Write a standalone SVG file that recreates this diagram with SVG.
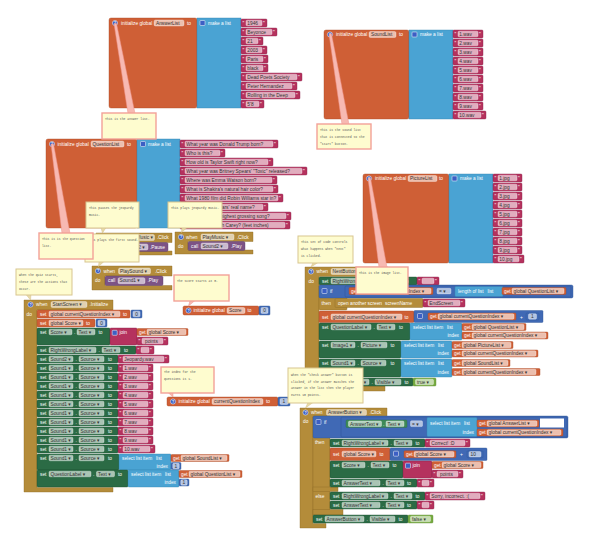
<svg xmlns="http://www.w3.org/2000/svg" width="600" height="542" viewBox="0 0 600 542">
<style>
.t{font-family:"Liberation Sans",Arial,"DejaVu Sans",sans-serif;font-size:4.8px;fill:#fff}
.k{font-family:"Liberation Sans",Arial,"DejaVu Sans",sans-serif;font-size:4.8px;fill:#333}
.e{text-anchor:end}
.q{font-family:"Liberation Sans",Arial,sans-serif;font-size:3.6px;fill:#fff;text-anchor:middle;font-weight:bold}
.o{fill:#CF5F36;stroke:#A94A24;stroke-width:.4}
.b{fill:#4AA3D3;stroke:#3584B0;stroke-width:.4}
.m{fill:#B5325E;stroke:#8C2049;stroke-width:.4}
.g{fill:#2B6B45;stroke:#1D4E31;stroke-width:.4}
.gg{fill:#3E8A58;stroke:#2B6B45;stroke-width:.4}
.y{fill:#B48C3A;stroke:#8E6C27;stroke-width:.4}
.p{fill:#7C5385;stroke:#5E3C66;stroke-width:.4}
.mb{fill:#4069B5;stroke:#2D5596;stroke-width:.4}
.lg{fill:#77AB41;stroke:#5C8A2F;stroke-width:.4}
.f{fill:#fff;fill-opacity:.6;stroke:#fff;stroke-opacity:.8;stroke-width:.4}
.ic{fill:#3C5FC4;stroke:#fff;stroke-width:.5}
.c{fill:#FEFCCF;stroke:#D8C58F;stroke-width:1}
.cp{fill:#FEFCCF;stroke:#F3A198;stroke-width:1.4}
.ct{font-family:"Liberation Mono","DejaVu Sans Mono",monospace;font-size:3.1px;fill:#555}
.w{fill:#F7B9B2;stroke:#EE948B;stroke-width:.5}
.tp{fill:#E9DAA8;stroke:#D2BE86;stroke-width:.5}
</style>
<rect width="600" height="542" fill="#fff"/>

<g id="answerList">
<rect class="o" x="109" y="18" width="88" height="90" rx="2"/>
<circle class="ic" cx="115" cy="23" r="2.6"/><text class="q" x="115" y="24.3">?</text>
<text class="t" x="121" y="24.7">initialize global</text>
<rect class="f" x="154" y="20" width="30" height="6" rx="1.5"/><text class="k" x="156" y="24.7">AnswerList</text>
<text class="t" x="187" y="24.7">to</text>
<rect class="b" x="197" y="18" width="44" height="90"/>
<rect class="ic" x="200" y="20.5" width="5" height="5" rx=".8"/>
<text class="t" x="208" y="24.7">make a list</text>
<rect class="m" x="241" y="19" width="26" height="8" rx="1"/><text class="t" x="242.6" y="25.3">"</text><rect class="f" x="246" y="20.2" width="16" height="5.6" rx="1.2"/><text class="k" x="247.3" y="24.7">1946</text><text class="t" x="263.1" y="25.3">"</text>
<rect class="m" x="241" y="28" width="36" height="8" rx="1"/><text class="t" x="242.6" y="34.3">"</text><rect class="f" x="246" y="29.2" width="26" height="5.6" rx="1.2"/><text class="k" x="247.3" y="33.7">Beyonce</text><text class="t" x="273.1" y="34.3">"</text>
<rect class="m" x="241" y="37" width="22" height="8" rx="1"/><text class="t" x="242.6" y="43.3">"</text><rect class="f" x="246" y="38.2" width="12" height="5.6" rx="1.2"/><text class="k" x="247.3" y="42.7">21</text><text class="t" x="259.1" y="43.3">"</text>
<rect class="m" x="241" y="46" width="26" height="8" rx="1"/><text class="t" x="242.6" y="52.3">"</text><rect class="f" x="246" y="47.2" width="16" height="5.6" rx="1.2"/><text class="k" x="247.3" y="51.7">2003</text><text class="t" x="263.1" y="52.3">"</text>
<rect class="m" x="241" y="55" width="27" height="8" rx="1"/><text class="t" x="242.6" y="61.3">"</text><rect class="f" x="246" y="56.2" width="17" height="5.6" rx="1.2"/><text class="k" x="247.3" y="60.7">Paris</text><text class="t" x="264.1" y="61.3">"</text>
<rect class="m" x="241" y="64" width="27" height="8" rx="1"/><text class="t" x="242.6" y="70.3">"</text><rect class="f" x="246" y="65.2" width="17" height="5.6" rx="1.2"/><text class="k" x="247.3" y="69.7">black</text><text class="t" x="264.1" y="70.3">"</text>
<rect class="m" x="241" y="73" width="61" height="8" rx="1"/><text class="t" x="242.6" y="79.3">"</text><rect class="f" x="246" y="74.2" width="51" height="5.6" rx="1.2"/><text class="k" x="247.3" y="78.7">Dead Poets Society</text><text class="t" x="298.1" y="79.3">"</text>
<rect class="m" x="241" y="82" width="56" height="8" rx="1"/><text class="t" x="242.6" y="88.3">"</text><rect class="f" x="246" y="83.2" width="46" height="5.6" rx="1.2"/><text class="k" x="247.3" y="87.7">Peter Hernandez</text><text class="t" x="293.1" y="88.3">"</text>
<rect class="m" x="241" y="91" width="59" height="8" rx="1"/><text class="t" x="242.6" y="97.3">"</text><rect class="f" x="246" y="92.2" width="49" height="5.6" rx="1.2"/><text class="k" x="247.3" y="96.7">Rolling in the Deep</text><text class="t" x="296.1" y="97.3">"</text>
<rect class="m" x="241" y="100" width="23" height="8" rx="1"/><text class="t" x="242.6" y="106.3">"</text><rect class="f" x="246" y="101.2" width="13" height="5.6" rx="1.2"/><text class="k" x="247.3" y="105.7">5'8</text><text class="t" x="260.1" y="106.3">"</text>
</g>

<g id="soundList">
<rect class="o" x="324" y="30" width="85" height="89" rx="2"/>
<circle class="ic" cx="330" cy="34.5" r="2.6"/><text class="q" x="330" y="35.8">?</text>
<text class="t" x="336" y="36.2">initialize global</text>
<rect class="f" x="369" y="31.5" width="27" height="6" rx="1.5"/><text class="k" x="371" y="36.2">SoundList</text>
<text class="t" x="399" y="36.2">to</text>
<rect class="b" x="409" y="30" width="44" height="89"/>
<rect class="ic" x="412" y="32" width="5" height="5" rx=".8"/>
<text class="t" x="420" y="36.2">make a list</text>
<rect class="m" x="453" y="30" width="30" height="8" rx="1"/><text class="t" x="454.6" y="36.3">"</text><rect class="f" x="458" y="31.2" width="20" height="5.6" rx="1.2"/><text class="k" x="459.3" y="35.7">1.wav</text><text class="t" x="479.1" y="36.3">"</text>
<rect class="m" x="453" y="39" width="30" height="8" rx="1"/><text class="t" x="454.6" y="45.3">"</text><rect class="f" x="458" y="40.2" width="20" height="5.6" rx="1.2"/><text class="k" x="459.3" y="44.7">2.wav</text><text class="t" x="479.1" y="45.3">"</text>
<rect class="m" x="453" y="48" width="30" height="8" rx="1"/><text class="t" x="454.6" y="54.3">"</text><rect class="f" x="458" y="49.2" width="20" height="5.6" rx="1.2"/><text class="k" x="459.3" y="53.7">3.wav</text><text class="t" x="479.1" y="54.3">"</text>
<rect class="m" x="453" y="57" width="30" height="8" rx="1"/><text class="t" x="454.6" y="63.3">"</text><rect class="f" x="458" y="58.2" width="20" height="5.6" rx="1.2"/><text class="k" x="459.3" y="62.7">4.wav</text><text class="t" x="479.1" y="63.3">"</text>
<rect class="m" x="453" y="66" width="30" height="8" rx="1"/><text class="t" x="454.6" y="72.3">"</text><rect class="f" x="458" y="67.2" width="20" height="5.6" rx="1.2"/><text class="k" x="459.3" y="71.7">5.wav</text><text class="t" x="479.1" y="72.3">"</text>
<rect class="m" x="453" y="75" width="30" height="8" rx="1"/><text class="t" x="454.6" y="81.3">"</text><rect class="f" x="458" y="76.2" width="20" height="5.6" rx="1.2"/><text class="k" x="459.3" y="80.7">6.wav</text><text class="t" x="479.1" y="81.3">"</text>
<rect class="m" x="453" y="84" width="30" height="8" rx="1"/><text class="t" x="454.6" y="90.3">"</text><rect class="f" x="458" y="85.2" width="20" height="5.6" rx="1.2"/><text class="k" x="459.3" y="89.7">7.wav</text><text class="t" x="479.1" y="90.3">"</text>
<rect class="m" x="453" y="93" width="30" height="8" rx="1"/><text class="t" x="454.6" y="99.3">"</text><rect class="f" x="458" y="94.2" width="20" height="5.6" rx="1.2"/><text class="k" x="459.3" y="98.7">8.wav</text><text class="t" x="479.1" y="99.3">"</text>
<rect class="m" x="453" y="102" width="30" height="8" rx="1"/><text class="t" x="454.6" y="108.3">"</text><rect class="f" x="458" y="103.2" width="20" height="5.6" rx="1.2"/><text class="k" x="459.3" y="107.7">9.wav</text><text class="t" x="479.1" y="108.3">"</text>
<rect class="m" x="453" y="111" width="33" height="8" rx="1"/><text class="t" x="454.6" y="117.3">"</text><rect class="f" x="458" y="112.2" width="23" height="5.6" rx="1.2"/><text class="k" x="459.3" y="116.7">10.wav</text><text class="t" x="482.1" y="117.3">"</text>
</g>

<g id="questionList">
<rect class="o" x="46" y="139" width="91" height="89" rx="2"/>
<circle class="ic" cx="52" cy="144" r="2.6"/><text class="q" x="52" y="145.3">?</text>
<text class="t" x="57.5" y="145.7">initialize global</text>
<rect class="f" x="91" y="141" width="33" height="6" rx="1.5"/><text class="k" x="92.5" y="145.7">QuestionList</text>
<text class="t" x="127" y="145.7">to</text>
<rect class="b" x="137" y="139" width="43" height="89"/>
<rect class="ic" x="140.5" y="141.5" width="5" height="5" rx=".8"/>
<text class="t" x="148" y="145.7">make a list</text>
<rect class="m" x="180" y="140" width="98" height="8" rx="1"/><text class="t" x="181.6" y="146.3">"</text><rect class="f" x="185" y="141.2" width="88" height="5.6" rx="1.2"/><text class="k" x="186.3" y="145.7">What year was Donald Trump born?</text><text class="t" x="274.1" y="146.3">"</text>
<rect class="m" x="180" y="149" width="45" height="8" rx="1"/><text class="t" x="181.6" y="155.3">"</text><rect class="f" x="185" y="150.2" width="35" height="5.6" rx="1.2"/><text class="k" x="186.3" y="154.7">Who is this?</text><text class="t" x="221.1" y="155.3">"</text>
<rect class="m" x="180" y="158" width="93" height="8" rx="1"/><text class="t" x="181.6" y="164.3">"</text><rect class="f" x="185" y="159.2" width="83" height="5.6" rx="1.2"/><text class="k" x="186.3" y="163.7">How old is Taylor Swift right now?</text><text class="t" x="269.1" y="164.3">"</text>
<rect class="m" x="180" y="167" width="127" height="8" rx="1"/><text class="t" x="181.6" y="173.3">"</text><rect class="f" x="185" y="168.2" width="117" height="5.6" rx="1.2"/><text class="k" x="186.3" y="172.7">What year was Britney Spears' "Toxic" released?</text><text class="t" x="303.1" y="173.3">"</text>
<rect class="m" x="180" y="176" width="97" height="8" rx="1"/><text class="t" x="181.6" y="182.3">"</text><rect class="f" x="185" y="177.2" width="87" height="5.6" rx="1.2"/><text class="k" x="186.3" y="181.7">Where was Emma Watson born?</text><text class="t" x="273.1" y="182.3">"</text>
<rect class="m" x="180" y="185" width="98" height="8" rx="1"/><text class="t" x="181.6" y="191.3">"</text><rect class="f" x="185" y="186.2" width="88" height="5.6" rx="1.2"/><text class="k" x="186.3" y="190.7">What is Shakira's natural hair color?</text><text class="t" x="274.1" y="191.3">"</text>
<rect class="m" x="180" y="194" width="103" height="8" rx="1"/><text class="t" x="181.6" y="200.3">"</text><rect class="f" x="185" y="195.2" width="93" height="5.6" rx="1.2"/><text class="k" x="186.3" y="199.7">What 1980 film did Robin Williams star in?</text><text class="t" x="279.1" y="200.3">"</text>
<rect class="m" x="180" y="203" width="88" height="8" rx="1"/><text class="t" x="181.6" y="209.3">"</text><rect class="f" x="185" y="204.2" width="78" height="5.6" rx="1.2"/><text class="k" x="186.3" y="208.7">What is Bruno Mars' real name?</text><text class="t" x="264.1" y="209.3">"</text>
<rect class="m" x="180" y="212" width="111" height="8" rx="1"/><text class="t" x="181.6" y="218.3">"</text><rect class="f" x="185" y="213.2" width="101" height="5.6" rx="1.2"/><text class="k" x="186.3" y="217.7">What is Adele's highest grossing song?</text><text class="t" x="287.1" y="218.3">"</text>
<rect class="m" x="180" y="221" width="110" height="8" rx="1"/><text class="t" x="181.6" y="227.3">"</text><rect class="f" x="185" y="222.2" width="100" height="5.6" rx="1.2"/><text class="k" x="186.3" y="226.7">How tall is Mariah Carey? (feet inches)</text><text class="t" x="286.1" y="227.3">"</text>
</g>

<g id="pictureList">
<rect class="o" x="363" y="174" width="86" height="89" rx="2"/>
<circle class="ic" cx="369" cy="178.5" r="2.6"/><text class="q" x="369" y="179.8">?</text>
<text class="t" x="375" y="180.2">initialize global</text>
<rect class="f" x="408" y="175.5" width="29" height="6" rx="1.5"/><text class="k" x="410" y="180.2">PictureList</text>
<text class="t" x="439" y="180.2">to</text>
<rect class="b" x="449" y="174" width="44" height="89"/>
<rect class="ic" x="452" y="176" width="5" height="5" rx=".8"/>
<text class="t" x="460" y="180.2">make a list</text>
<rect class="m" x="493" y="174" width="29" height="8" rx="1"/><text class="t" x="494.6" y="180.3">"</text><rect class="f" x="498" y="175.2" width="19" height="5.6" rx="1.2"/><text class="k" x="499.3" y="179.7">1.jpg</text><text class="t" x="518.1" y="180.3">"</text>
<rect class="m" x="493" y="183" width="29" height="8" rx="1"/><text class="t" x="494.6" y="189.3">"</text><rect class="f" x="498" y="184.2" width="19" height="5.6" rx="1.2"/><text class="k" x="499.3" y="188.7">2.jpg</text><text class="t" x="518.1" y="189.3">"</text>
<rect class="m" x="493" y="192" width="29" height="8" rx="1"/><text class="t" x="494.6" y="198.3">"</text><rect class="f" x="498" y="193.2" width="19" height="5.6" rx="1.2"/><text class="k" x="499.3" y="197.7">3.jpg</text><text class="t" x="518.1" y="198.3">"</text>
<rect class="m" x="493" y="201" width="29" height="8" rx="1"/><text class="t" x="494.6" y="207.3">"</text><rect class="f" x="498" y="202.2" width="19" height="5.6" rx="1.2"/><text class="k" x="499.3" y="206.7">4.jpg</text><text class="t" x="518.1" y="207.3">"</text>
<rect class="m" x="493" y="210" width="29" height="8" rx="1"/><text class="t" x="494.6" y="216.3">"</text><rect class="f" x="498" y="211.2" width="19" height="5.6" rx="1.2"/><text class="k" x="499.3" y="215.7">5.jpg</text><text class="t" x="518.1" y="216.3">"</text>
<rect class="m" x="493" y="219" width="29" height="8" rx="1"/><text class="t" x="494.6" y="225.3">"</text><rect class="f" x="498" y="220.2" width="19" height="5.6" rx="1.2"/><text class="k" x="499.3" y="224.7">6.jpg</text><text class="t" x="518.1" y="225.3">"</text>
<rect class="m" x="493" y="228" width="29" height="8" rx="1"/><text class="t" x="494.6" y="234.3">"</text><rect class="f" x="498" y="229.2" width="19" height="5.6" rx="1.2"/><text class="k" x="499.3" y="233.7">7.jpg</text><text class="t" x="518.1" y="234.3">"</text>
<rect class="m" x="493" y="237" width="29" height="8" rx="1"/><text class="t" x="494.6" y="243.3">"</text><rect class="f" x="498" y="238.2" width="19" height="5.6" rx="1.2"/><text class="k" x="499.3" y="242.7">8.jpg</text><text class="t" x="518.1" y="243.3">"</text>
<rect class="m" x="493" y="246" width="29" height="8" rx="1"/><text class="t" x="494.6" y="252.3">"</text><rect class="f" x="498" y="247.2" width="19" height="5.6" rx="1.2"/><text class="k" x="499.3" y="251.7">9.jpg</text><text class="t" x="518.1" y="252.3">"</text>
<rect class="m" x="493" y="255" width="31" height="8" rx="1"/><text class="t" x="494.6" y="261.3">"</text><rect class="f" x="498" y="256.2" width="21" height="5.6" rx="1.2"/><text class="k" x="499.3" y="260.7">10.jpg</text><text class="t" x="520.1" y="261.3">"</text>
</g>

<g id="pauseMusic">
<path class="y" d="M96,233 H172 V242.5 H110 V251 H172 V255 H96 Z"/>
<circle class="ic" cx="102" cy="237.5" r="2.6"/><text class="q" x="102" y="238.8">?</text>
<text class="t" x="107" y="239.2">when</text>
<rect class="f" x="121.5" y="234.5" width="33" height="6" rx="1.5"/><text class="k" x="123" y="239.2">PauseMusic ▾</text>
<text class="t" x="157" y="239.2">.Click</text>
<text class="t" x="99" y="248.5">do</text>
<rect class="p" x="110" y="242.5" width="58" height="9" rx="1.5"/>
<text class="t" x="113" y="248.5">call</text>
<rect class="f" x="123" y="244" width="25" height="6" rx="1.5"/><text class="k" x="124.5" y="248.5">Sound2 ▾</text>
<text class="t" x="150" y="248.5">.Pause</text>
</g>

<g id="playMusic">
<path class="y" d="M175,232 H253 V241.5 H188 V250 H253 V254 H175 Z"/>
<circle class="ic" cx="181" cy="237" r="2.6"/><text class="q" x="181" y="238.3">?</text>
<text class="t" x="186" y="238.7">when</text>
<rect class="f" x="201" y="234" width="33" height="6" rx="1.5"/><text class="k" x="202.5" y="238.7">PlayMusic ▾</text>
<text class="t" x="237" y="238.7">.Click</text>
<text class="t" x="178" y="247.5">do</text>
<rect class="p" x="188" y="241.5" width="57" height="9" rx="1.5"/>
<text class="t" x="191" y="247.5">call</text>
<rect class="f" x="201" y="243" width="27" height="6" rx="1.5"/><text class="k" x="202.5" y="247.5">Sound2 ▾</text>
<text class="t" x="231" y="247.5">.Play</text>
</g>

<g id="playSound">
<path class="y" d="M92,266 H172 V276 H105 V285.5 H172 V290 H92 Z"/>
<circle class="ic" cx="98" cy="271" r="2.6"/><text class="q" x="98" y="272.3">?</text>
<text class="t" x="103.5" y="272.7">when</text>
<rect class="f" x="118.5" y="268" width="32" height="6" rx="1.5"/><text class="k" x="120" y="272.7">PlaySound ▾</text>
<text class="t" x="155" y="272.7">.Click</text>
<text class="t" x="95" y="282">do</text>
<rect class="p" x="105" y="276" width="58" height="9.5" rx="1.5"/>
<text class="t" x="108" y="282.3">call</text>
<rect class="f" x="118" y="277.7" width="27" height="6" rx="1.5"/><text class="k" x="119.5" y="282.3">Sound1 ▾</text>
<text class="t" x="147.5" y="282.3">.Play</text>
</g>

<g id="initScore">
<rect class="o" x="183" y="306" width="76" height="9" rx="1.5"/>
<circle class="ic" cx="188.5" cy="310.5" r="2.6"/><text class="q" x="188.5" y="311.8">?</text>
<text class="t" x="193.5" y="312.2">initialize global</text>
<rect class="f" x="227" y="307.5" width="18" height="6" rx="1.5"/><text class="k" x="229" y="312.2">Score</text>
<text class="t" x="247.5" y="312.2">to</text>
<rect class="mb" x="259" y="306" width="11" height="9" rx="1"/><rect class="f" x="261" y="307.5" width="7" height="6" rx="1.2"/><text class="k" x="263.2" y="312.2">0</text>
</g>

<g id="initIndex">
<rect class="o" x="167" y="397" width="111" height="9" rx="1.5"/>
<circle class="ic" cx="173" cy="401.5" r="2.6"/><text class="q" x="173" y="402.8">?</text>
<text class="t" x="178.5" y="403.2">initialize global</text>
<rect class="f" x="212" y="398.5" width="51" height="6" rx="1.5"/><text class="k" x="214" y="403.2">currentQuestionIndex</text>
<text class="t" x="266" y="403.2">to</text>
<rect class="mb" x="278" y="397" width="12" height="9" rx="1"/><rect class="f" x="280" y="398.5" width="8" height="6" rx="1.2"/><text class="k" x="282.6" y="403.2">1</text>
</g>

<g id="startScreen">
<path class="y" d="M24,300 H113 V310 H37 V487.5 H113 V492 H24 Z"/>
<circle class="ic" cx="30.5" cy="304.5" r="2.6"/><text class="q" x="30.5" y="305.8">?</text>
<text class="t" x="36" y="306.2">when</text>
<rect class="f" x="51" y="301.5" width="36" height="6" rx="1.5"/><text class="k" x="52.5" y="306.2">StartScreen ▾</text>
<text class="t" x="89.5" y="306.2">.Initialize</text>
<text class="t" x="26.5" y="315.5">do</text>
<rect class="o" x="37" y="310" width="93" height="8" rx="1"/>
<text class="t" x="40" y="315.7">set</text>
<rect class="f" x="49" y="311.2" width="71" height="5.6" rx="1.2"/><text class="k" x="50.5" y="315.7">global currentQuestionIndex ▾</text>
<text class="t" x="123" y="315.7">to</text>
<rect class="mb" x="131" y="310" width="11" height="8" rx="1"/><rect class="f" x="133" y="311.2" width="7" height="5.6" rx="1.2"/><text class="k" x="135.2" y="315.7">0</text>
<rect class="o" x="37" y="319" width="58" height="8" rx="1"/>
<text class="t" x="40" y="324.7">set</text>
<rect class="f" x="49" y="320.2" width="34" height="5.6" rx="1.2"/><text class="k" x="50.5" y="324.7">global Score ▾</text>
<text class="t" x="86" y="324.7">to</text>
<rect class="mb" x="96" y="319" width="11" height="8" rx="1"/><rect class="f" x="98" y="320.2" width="7" height="5.6" rx="1.2"/><text class="k" x="100.2" y="324.7">0</text>
<rect class="g" x="37" y="328" width="73" height="17" rx="1"/>
<text class="t" x="40" y="333.7">set</text>
<rect class="f" x="49" y="329.2" width="23" height="5.6" rx="1.2"/><text class="k" x="50.5" y="333.7">Score ▾</text>
<text class="t" x="74" y="333.7">.</text>
<rect class="f" x="77" y="329.2" width="18" height="5.6" rx="1.2"/><text class="k" x="78.5" y="333.7">Text ▾</text>
<text class="t" x="98.5" y="333.7">to</text>
<rect class="m" x="110" y="328" width="27" height="17" rx="1"/>
<rect class="ic" x="112.2" y="330.3" width="5" height="5" rx=".8"/>
<text class="t" x="119.5" y="333.7">join</text>
<rect class="o" x="137" y="328.5" width="51" height="7" rx="1"/><text class="t" x="139" y="333.7">get</text><rect class="f" x="147" y="329.3" width="39" height="5.4" rx="1.2"/><text class="k" x="148.5" y="333.7">global Score ▾</text>
<rect class="m" x="137" y="337" width="31" height="8" rx="1"/><text class="t" x="138.6" y="343.3">"</text><rect class="f" x="142" y="338.2" width="21" height="5.6" rx="1.2"/><text class="k" x="145" y="342.7">points</text><text class="t" x="164.1" y="343.3">"</text>
<rect class="g" x="37" y="346" width="99" height="8" rx="1"/>
<text class="t" x="40" y="351.7">set</text>
<rect class="f" x="49" y="347.2" width="47" height="5.6" rx="1.2"/><text class="k" x="50.5" y="351.7">RightWrongLabel ▾</text>
<text class="t" x="98.5" y="351.7">.</text>
<rect class="f" x="102" y="347.2" width="18" height="5.6" rx="1.2"/><text class="k" x="103.5" y="351.7">Text ▾</text>
<text class="t" x="124" y="351.7">to</text>
<rect class="m" x="136" y="346" width="18" height="8" rx="1"/><text class="t" x="137.6" y="352.3">"</text><rect class="f" x="141" y="347.2" width="8" height="5.6" rx="1.2"/><text class="t" x="150.1" y="352.3">"</text>
<rect class="g" x="37" y="355" width="81" height="8" rx="1"/>
<text class="t" x="40" y="360.7">set</text>
<rect class="f" x="49" y="356.2" width="24" height="5.6" rx="1.2"/><text class="k" x="50.5" y="360.7">Sound2 ▾</text>
<text class="t" x="75.5" y="360.7">.</text>
<rect class="f" x="79" y="356.2" width="25" height="5.6" rx="1.2"/><text class="k" x="80.5" y="360.7">Source ▾</text>
<text class="t" x="108" y="360.7">to</text>
<rect class="m" x="118" y="355" width="51" height="8" rx="1"/><text class="t" x="119.6" y="361.3">"</text><rect class="f" x="123" y="356.2" width="41" height="5.6" rx="1.2"/><text class="k" x="124.3" y="360.7">Jeopardy.wav</text><text class="t" x="165.1" y="361.3">"</text>
<rect class="g" x="37" y="364" width="81" height="8" rx="1"/><text class="t" x="40" y="369.7">set</text><rect class="f" x="49" y="365.2" width="24" height="5.6" rx="1.2"/><text class="k" x="50.5" y="369.7">Sound1 ▾</text><text class="t" x="75.5" y="369.7">.</text><rect class="f" x="79" y="365.2" width="25" height="5.6" rx="1.2"/><text class="k" x="80.5" y="369.7">Source ▾</text><text class="t" x="108" y="369.7">to</text>
<rect class="m" x="118" y="364" width="35" height="8" rx="1"/><text class="t" x="119.6" y="370.3">"</text><rect class="f" x="123" y="365.2" width="25" height="5.6" rx="1.2"/><text class="k" x="124.3" y="369.7">1.wav</text><text class="t" x="149.1" y="370.3">"</text>
<rect class="g" x="37" y="373" width="81" height="8" rx="1"/><text class="t" x="40" y="378.7">set</text><rect class="f" x="49" y="374.2" width="24" height="5.6" rx="1.2"/><text class="k" x="50.5" y="378.7">Sound1 ▾</text><text class="t" x="75.5" y="378.7">.</text><rect class="f" x="79" y="374.2" width="25" height="5.6" rx="1.2"/><text class="k" x="80.5" y="378.7">Source ▾</text><text class="t" x="108" y="378.7">to</text>
<rect class="m" x="118" y="373" width="35" height="8" rx="1"/><text class="t" x="119.6" y="379.3">"</text><rect class="f" x="123" y="374.2" width="25" height="5.6" rx="1.2"/><text class="k" x="124.3" y="378.7">2.wav</text><text class="t" x="149.1" y="379.3">"</text>
<rect class="g" x="37" y="382" width="81" height="8" rx="1"/><text class="t" x="40" y="387.7">set</text><rect class="f" x="49" y="383.2" width="24" height="5.6" rx="1.2"/><text class="k" x="50.5" y="387.7">Sound1 ▾</text><text class="t" x="75.5" y="387.7">.</text><rect class="f" x="79" y="383.2" width="25" height="5.6" rx="1.2"/><text class="k" x="80.5" y="387.7">Source ▾</text><text class="t" x="108" y="387.7">to</text>
<rect class="m" x="118" y="382" width="35" height="8" rx="1"/><text class="t" x="119.6" y="388.3">"</text><rect class="f" x="123" y="383.2" width="25" height="5.6" rx="1.2"/><text class="k" x="124.3" y="387.7">3.wav</text><text class="t" x="149.1" y="388.3">"</text>
<rect class="g" x="37" y="391" width="81" height="8" rx="1"/><text class="t" x="40" y="396.7">set</text><rect class="f" x="49" y="392.2" width="24" height="5.6" rx="1.2"/><text class="k" x="50.5" y="396.7">Sound1 ▾</text><text class="t" x="75.5" y="396.7">.</text><rect class="f" x="79" y="392.2" width="25" height="5.6" rx="1.2"/><text class="k" x="80.5" y="396.7">Source ▾</text><text class="t" x="108" y="396.7">to</text>
<rect class="m" x="118" y="391" width="35" height="8" rx="1"/><text class="t" x="119.6" y="397.3">"</text><rect class="f" x="123" y="392.2" width="25" height="5.6" rx="1.2"/><text class="k" x="124.3" y="396.7">4.wav</text><text class="t" x="149.1" y="397.3">"</text>
<rect class="g" x="37" y="400" width="81" height="8" rx="1"/><text class="t" x="40" y="405.7">set</text><rect class="f" x="49" y="401.2" width="24" height="5.6" rx="1.2"/><text class="k" x="50.5" y="405.7">Sound1 ▾</text><text class="t" x="75.5" y="405.7">.</text><rect class="f" x="79" y="401.2" width="25" height="5.6" rx="1.2"/><text class="k" x="80.5" y="405.7">Source ▾</text><text class="t" x="108" y="405.7">to</text>
<rect class="m" x="118" y="400" width="35" height="8" rx="1"/><text class="t" x="119.6" y="406.3">"</text><rect class="f" x="123" y="401.2" width="25" height="5.6" rx="1.2"/><text class="k" x="124.3" y="405.7">5.wav</text><text class="t" x="149.1" y="406.3">"</text>
<rect class="g" x="37" y="409" width="81" height="8" rx="1"/><text class="t" x="40" y="414.7">set</text><rect class="f" x="49" y="410.2" width="24" height="5.6" rx="1.2"/><text class="k" x="50.5" y="414.7">Sound1 ▾</text><text class="t" x="75.5" y="414.7">.</text><rect class="f" x="79" y="410.2" width="25" height="5.6" rx="1.2"/><text class="k" x="80.5" y="414.7">Source ▾</text><text class="t" x="108" y="414.7">to</text>
<rect class="m" x="118" y="409" width="35" height="8" rx="1"/><text class="t" x="119.6" y="415.3">"</text><rect class="f" x="123" y="410.2" width="25" height="5.6" rx="1.2"/><text class="k" x="124.3" y="414.7">6.wav</text><text class="t" x="149.1" y="415.3">"</text>
<rect class="g" x="37" y="418" width="81" height="8" rx="1"/><text class="t" x="40" y="423.7">set</text><rect class="f" x="49" y="419.2" width="24" height="5.6" rx="1.2"/><text class="k" x="50.5" y="423.7">Sound1 ▾</text><text class="t" x="75.5" y="423.7">.</text><rect class="f" x="79" y="419.2" width="25" height="5.6" rx="1.2"/><text class="k" x="80.5" y="423.7">Source ▾</text><text class="t" x="108" y="423.7">to</text>
<rect class="m" x="118" y="418" width="35" height="8" rx="1"/><text class="t" x="119.6" y="424.3">"</text><rect class="f" x="123" y="419.2" width="25" height="5.6" rx="1.2"/><text class="k" x="124.3" y="423.7">7.wav</text><text class="t" x="149.1" y="424.3">"</text>
<rect class="g" x="37" y="427" width="81" height="8" rx="1"/><text class="t" x="40" y="432.7">set</text><rect class="f" x="49" y="428.2" width="24" height="5.6" rx="1.2"/><text class="k" x="50.5" y="432.7">Sound1 ▾</text><text class="t" x="75.5" y="432.7">.</text><rect class="f" x="79" y="428.2" width="25" height="5.6" rx="1.2"/><text class="k" x="80.5" y="432.7">Source ▾</text><text class="t" x="108" y="432.7">to</text>
<rect class="m" x="118" y="427" width="35" height="8" rx="1"/><text class="t" x="119.6" y="433.3">"</text><rect class="f" x="123" y="428.2" width="25" height="5.6" rx="1.2"/><text class="k" x="124.3" y="432.7">8.wav</text><text class="t" x="149.1" y="433.3">"</text>
<rect class="g" x="37" y="436" width="81" height="8" rx="1"/><text class="t" x="40" y="441.7">set</text><rect class="f" x="49" y="437.2" width="24" height="5.6" rx="1.2"/><text class="k" x="50.5" y="441.7">Sound1 ▾</text><text class="t" x="75.5" y="441.7">.</text><rect class="f" x="79" y="437.2" width="25" height="5.6" rx="1.2"/><text class="k" x="80.5" y="441.7">Source ▾</text><text class="t" x="108" y="441.7">to</text>
<rect class="m" x="118" y="436" width="35" height="8" rx="1"/><text class="t" x="119.6" y="442.3">"</text><rect class="f" x="123" y="437.2" width="25" height="5.6" rx="1.2"/><text class="k" x="124.3" y="441.7">9.wav</text><text class="t" x="149.1" y="442.3">"</text>
<rect class="g" x="37" y="445" width="81" height="8" rx="1"/><text class="t" x="40" y="450.7">set</text><rect class="f" x="49" y="446.2" width="24" height="5.6" rx="1.2"/><text class="k" x="50.5" y="450.7">Sound1 ▾</text><text class="t" x="75.5" y="450.7">.</text><rect class="f" x="79" y="446.2" width="25" height="5.6" rx="1.2"/><text class="k" x="80.5" y="450.7">Source ▾</text><text class="t" x="108" y="450.7">to</text>
<rect class="m" x="118" y="445" width="37" height="8" rx="1"/><text class="t" x="119.6" y="451.3">"</text><rect class="f" x="123" y="446.2" width="27" height="5.6" rx="1.2"/><text class="k" x="124.3" y="450.7">10.wav</text><text class="t" x="151.1" y="451.3">"</text>
<rect class="g" x="37" y="454" width="82" height="16" rx="1"/><text class="t" x="40" y="459.7">set</text><rect class="f" x="49" y="455.2" width="24" height="5.6" rx="1.2"/><text class="k" x="50.5" y="459.7">Sound1 ▾</text><text class="t" x="75.5" y="459.7">.</text><rect class="f" x="79" y="455.2" width="25" height="5.6" rx="1.2"/><text class="k" x="80.5" y="459.7">Source ▾</text><text class="t" x="108" y="459.7">to</text>
<rect class="b" x="119" y="454" width="52" height="16" rx="1"/>
<text class="t" x="122" y="459.7">select list item</text><text class="t" x="156" y="459.7">list</text>
<text class="t e" x="168" y="468">index</text>
<rect class="o" x="171" y="454.5" width="58" height="7" rx="1"/><text class="t" x="173" y="459.7">get</text><rect class="f" x="181" y="455.3" width="46" height="5.4" rx="1.2"/><text class="k" x="182.5" y="459.7">global SoundList ▾</text>
<rect class="mb" x="171" y="462.5" width="10" height="7" rx="1"/><rect class="f" x="172.8" y="463.3" width="6.4" height="5.4" rx="1.2"/><text class="k" x="174.6" y="467.7">1</text>
<rect class="g" x="37" y="470" width="91" height="17" rx="1"/><text class="t" x="40" y="475.7">set</text><rect class="f" x="49" y="471.2" width="42" height="5.6" rx="1.2"/><text class="k" x="50.5" y="475.7">QuestionLabel ▾</text><text class="t" x="93" y="475.7">.</text><rect class="f" x="96.5" y="471.2" width="18" height="5.6" rx="1.2"/><text class="k" x="98" y="475.7">Text ▾</text><text class="t" x="118" y="475.7">to</text>
<rect class="b" x="128" y="470" width="51" height="17" rx="1"/>
<text class="t" x="131" y="475.7">select list item</text><text class="t" x="165" y="475.7">list</text>
<text class="t e" x="176" y="484.3">index</text>
<rect class="o" x="179" y="470.5" width="63" height="7" rx="1"/><text class="t" x="181" y="475.7">get</text><rect class="f" x="189" y="471.3" width="51" height="5.4" rx="1.2"/><text class="k" x="190.5" y="475.7">global QuestionList ▾</text>
<rect class="mb" x="179" y="479" width="10" height="7" rx="1"/><rect class="f" x="180.8" y="479.8" width="6.4" height="5.4" rx="1.2"/><text class="k" x="182.6" y="484.2">1</text>
</g>

<g id="nextButton">
<path class="y" d="M305,267 H388 V276.5 H319 V386 H385 V391 H305 Z"/>
<circle class="ic" cx="311" cy="271.5" r="2.6"/><text class="q" x="311" y="272.8">?</text>
<text class="t" x="316.5" y="273.2">when</text>
<rect class="f" x="331" y="268.5" width="34" height="6" rx="1.5"/><text class="k" x="332.5" y="273.2">NextButton ▾</text>
<text class="t" x="368" y="273.2">.Click</text>
<text class="t" x="308.5" y="282.5">do</text>
<rect class="g" x="319" y="277" width="98" height="8" rx="1"/><text class="t" x="322" y="282.7">set</text><rect class="f" x="331" y="278.2" width="46" height="5.6" rx="1.2"/><text class="k" x="332.5" y="282.7">RightWrongLabel ▾</text><text class="t" x="379.5" y="282.7">.</text><rect class="f" x="383" y="278.2" width="18" height="5.6" rx="1.2"/><text class="k" x="384.5" y="282.7">Text ▾</text><text class="t" x="404.5" y="282.7">to</text>
<rect class="m" x="417" y="277" width="22" height="8" rx="1"/><text class="t" x="418.6" y="283.3">"</text><rect class="f" x="422" y="278.2" width="12" height="5.6" rx="1.2"/><text class="t" x="435.1" y="283.3">"</text>
<rect class="y" x="319" y="285" width="28" height="25" rx="1"/>
<rect class="mb" x="319" y="285" width="254" height="13" rx="1.5"/>
<rect class="ic" x="322" y="288.5" width="5" height="5" rx=".8"/>
<text class="t" x="330" y="292.7">if</text>
<rect class="mb" x="345" y="286" width="226" height="11" rx="1" style="stroke:#2A4F8F"/>
<rect class="o" x="349" y="287.5" width="84" height="7" rx="1"/><text class="t" x="351" y="292.7">get</text><rect class="f" x="359" y="288.3" width="72" height="5.4" rx="1.2"/><text class="k" x="360.5" y="292.7">global currentQuestionIndex ▾</text>
<rect class="f" x="437" y="288.3" width="14" height="5.6" rx="1.2"/><text class="k" x="439" y="292.7">= ▾</text>
<rect class="b" x="455" y="286.5" width="48" height="10" rx="1"/>
<text class="t" x="458" y="292.7">length of list</text><text class="t" x="487.5" y="292.7">list</text>
<rect class="o" x="502" y="287.5" width="64" height="7" rx="1"/><text class="t" x="504" y="292.7">get</text><rect class="f" x="512" y="288.3" width="52" height="5.4" rx="1.2"/><text class="k" x="513.5" y="292.7">global QuestionList ▾</text>
<text class="t" x="321.5" y="304.7">then</text>
<rect class="y" x="335" y="298.5" width="88" height="9" rx="1"/>
<text class="t" x="338" y="304.7">open another screen</text><text class="t" x="385" y="304.7">screenName</text>
<rect class="m" x="423" y="299" width="42" height="8" rx="1"/><text class="t" x="424.6" y="305.3">"</text><rect class="f" x="428" y="300.2" width="32" height="5.6" rx="1.2"/><text class="k" x="429.3" y="304.7">EndScreen</text><text class="t" x="461.1" y="305.3">"</text>
<rect class="o" x="319" y="311" width="95" height="11.5" rx="1"/><text class="t" x="322" y="318.5">set</text><rect class="f" x="331" y="314" width="71" height="5.6" rx="1.2"/><text class="k" x="332.5" y="318.5">global currentQuestionIndex ▾</text><text class="t" x="404.5" y="318.5">to</text>
<rect class="mb" x="414" y="310.5" width="129" height="12" rx="1"/>
<rect class="ic" x="417.5" y="313.5" width="5" height="5" rx=".8"/>
<rect class="o" x="428" y="313" width="88" height="7" rx="1"/><text class="t" x="430" y="318.2">get</text><rect class="f" x="438" y="313.8" width="76" height="5.4" rx="1.2"/><text class="k" x="439.5" y="318.2">global currentQuestionIndex ▾</text>
<text class="t" x="520" y="318.5">+</text>
<rect class="mb" x="526" y="313" width="13" height="7" rx="1"/><rect class="f" x="528.5" y="313.8" width="8" height="5.4" rx="1.2"/><text class="k" x="531" y="318.2">1</text>
<rect class="g" x="319" y="323" width="91" height="17" rx="1"/><text class="t" x="322" y="328.7">set</text><rect class="f" x="331" y="324.2" width="40" height="5.6" rx="1.2"/><text class="k" x="332.5" y="328.7">QuestionLabel ▾</text><text class="t" x="373.5" y="328.7">.</text><rect class="f" x="377" y="324.2" width="18" height="5.6" rx="1.2"/><text class="k" x="378.5" y="328.7">Text ▾</text><text class="t" x="399" y="328.7">to</text>
<rect class="b" x="410" y="323" width="52" height="17" rx="1"/><text class="t" x="413" y="328.7">select list item</text><text class="t" x="447" y="328.7">list</text><text class="t e" x="459" y="337.3">index</text>
<rect class="o" x="462" y="323.5" width="64" height="7" rx="1"/><text class="t" x="464" y="328.7">get</text><rect class="f" x="472" y="324.3" width="52" height="5.4" rx="1.2"/><text class="k" x="473.5" y="328.7">global QuestionList ▾</text>
<rect class="o" x="462" y="332" width="86" height="7" rx="1"/><text class="t" x="464" y="337.2">get</text><rect class="f" x="472" y="332.8" width="74" height="5.4" rx="1.2"/><text class="k" x="473.5" y="337.2">global currentQuestionIndex ▾</text>
<rect class="g" x="319" y="341" width="82" height="17" rx="1"/><text class="t" x="322" y="346.7">set</text><rect class="f" x="331" y="342.2" width="24" height="5.6" rx="1.2"/><text class="k" x="332.5" y="346.7">Image1 ▾</text><text class="t" x="357.5" y="346.7">.</text><rect class="f" x="361" y="342.2" width="26" height="5.6" rx="1.2"/><text class="k" x="362.5" y="346.7">Picture ▾</text><text class="t" x="390.5" y="346.7">to</text>
<rect class="b" x="401" y="341" width="51" height="17" rx="1"/><text class="t" x="404" y="346.7">select list item</text><text class="t" x="438" y="346.7">list</text><text class="t e" x="449" y="355.3">index</text>
<rect class="o" x="452" y="341.5" width="61" height="7" rx="1"/><text class="t" x="454" y="346.7">get</text><rect class="f" x="462" y="342.3" width="49" height="5.4" rx="1.2"/><text class="k" x="463.5" y="346.7">global PictureList ▾</text>
<rect class="o" x="452" y="350" width="86" height="7" rx="1"/><text class="t" x="454" y="355.2">get</text><rect class="f" x="462" y="350.8" width="74" height="5.4" rx="1.2"/><text class="k" x="463.5" y="355.2">global currentQuestionIndex ▾</text>
<rect class="g" x="319" y="359" width="82" height="18" rx="1"/><text class="t" x="322" y="364.7">set</text><rect class="f" x="331" y="360.2" width="24" height="5.6" rx="1.2"/><text class="k" x="332.5" y="364.7">Sound1 ▾</text><text class="t" x="357.5" y="364.7">.</text><rect class="f" x="361" y="360.2" width="25" height="5.6" rx="1.2"/><text class="k" x="362.5" y="364.7">Source ▾</text><text class="t" x="390.5" y="364.7">to</text>
<rect class="b" x="401" y="359" width="51" height="18" rx="1"/><text class="t" x="404" y="364.7">select list item</text><text class="t" x="438" y="364.7">list</text><text class="t e" x="449" y="374">index</text>
<rect class="o" x="452" y="359.5" width="58" height="7" rx="1"/><text class="t" x="454" y="364.7">get</text><rect class="f" x="462" y="360.3" width="46" height="5.4" rx="1.2"/><text class="k" x="463.5" y="364.7">global SoundList ▾</text>
<rect class="o" x="452" y="368.5" width="88" height="7" rx="1"/><text class="t" x="454" y="373.7">get</text><rect class="f" x="462" y="369.3" width="74" height="5.4" rx="1.2"/><text class="k" x="463.5" y="373.7">global currentQuestionIndex ▾</text>
<rect class="g" x="319" y="378" width="94" height="8" rx="1"/><text class="t" x="322" y="383.7">set</text><rect class="f" x="331" y="379.2" width="38" height="5.6" rx="1.2"/><text class="k" x="332.5" y="383.7">AnswerButton ▾</text><text class="t" x="371.5" y="383.7">.</text><rect class="f" x="375" y="379.2" width="26" height="5.6" rx="1.2"/><text class="k" x="376.5" y="383.7">Visible ▾</text><text class="t" x="404.5" y="383.7">to</text>
<rect class="lg" x="413" y="378" width="23" height="8" rx="1"/><rect class="f" x="415.5" y="379.2" width="18" height="5.6" rx="1.2"/><text class="k" x="417" y="383.7">true ▾</text>
</g>

<g id="answerButton">
<path class="y" d="M300,408 H387 V417 H313 V523.5 H326 V528 H300 Z"/>
<circle class="ic" cx="305.5" cy="412.5" r="2.6"/><text class="q" x="305.5" y="413.8">?</text>
<text class="t" x="311" y="414.2">when</text>
<rect class="f" x="326.5" y="409.5" width="40" height="6" rx="1.5"/><text class="k" x="328" y="414.2">AnswerButton ▾</text>
<text class="t" x="369.5" y="414.2">.Click</text>
<text class="t" x="303" y="423">do</text>
<rect class="y" x="313" y="416" width="17" height="99"/>
<rect class="y" x="313" y="487" width="25" height="4.5"/>
<rect class="y" x="313" y="509.5" width="30" height="5.5"/>
<rect class="mb" x="313" y="416" width="255" height="22" rx="1.5"/>
<rect class="ic" x="316" y="419.5" width="5" height="5" rx=".8"/>
<text class="t" x="324" y="424">if</text>
<rect class="mb" x="341" y="417" width="226" height="20" rx="1" style="stroke:#2A4F8F"/>
<rect class="gg" x="346" y="420" width="61" height="7.5" rx="1"/><rect class="f" x="348.5" y="421" width="33" height="5.6" rx="1.2"/><text class="k" x="350" y="425.5">AnswerText ▾</text><text class="t" x="383" y="425.5">.</text><rect class="f" x="386" y="421" width="18" height="5.6" rx="1.2"/><text class="k" x="387.5" y="425.5">Text ▾</text>
<rect class="f" x="410.5" y="420.8" width="12" height="5.8" rx="1.2"/><text class="k" x="412" y="425.5">= ▾</text>
<rect class="b" x="427" y="417.5" width="50" height="19" rx="1"/><text class="t" x="430" y="425.2">select list item</text><text class="t" x="464" y="425.2">list</text><text class="t e" x="474" y="434">index</text>
<rect class="o" x="477" y="420" width="62" height="7" rx="1"/><text class="t" x="479" y="425.2">get</text><rect class="f" x="487" y="420.8" width="50" height="5.4" rx="1.2"/><text class="k" x="488.5" y="425.2">global AnswerList ▾</text>
<rect x="540" y="418.5" width="24" height="9" fill="#fff"/>
<rect class="o" x="477" y="429" width="86" height="7" rx="1"/><text class="t" x="479" y="434.2">get</text><rect class="f" x="487" y="429.8" width="74" height="5.4" rx="1.2"/><text class="k" x="488.5" y="434.2">global currentQuestionIndex ▾</text>
<text class="t" x="315" y="444.2">then</text>
<rect class="g" x="330" y="439" width="95" height="8" rx="1"/><text class="t" x="333" y="444.7">set</text><rect class="f" x="342" y="440.2" width="46" height="5.6" rx="1.2"/><text class="k" x="343.5" y="444.7">RightWrongLabel ▾</text><text class="t" x="390.5" y="444.7">.</text><rect class="f" x="394" y="440.2" width="18" height="5.6" rx="1.2"/><text class="k" x="395.5" y="444.7">Text ▾</text><text class="t" x="415.5" y="444.7">to</text>
<rect class="m" x="425" y="439" width="45" height="8" rx="1"/><text class="t" x="426.6" y="445.3">"</text><rect class="f" x="430" y="440.2" width="35" height="5.6" rx="1.2"/><text class="k" x="431.3" y="444.7">Correct! :D</text><text class="t" x="466.1" y="445.3">"</text>
<rect class="o" x="330" y="448" width="60" height="12.5" rx="1"/><text class="t" x="333" y="455.7">set</text><rect class="f" x="342" y="451.2" width="34" height="5.6" rx="1.2"/><text class="k" x="343.5" y="455.7">global Score ▾</text><text class="t" x="379.5" y="455.7">to</text>
<rect class="mb" x="390" y="448" width="97" height="12.5" rx="1"/>
<rect class="ic" x="393.5" y="451.2" width="5" height="5" rx=".8"/>
<rect class="o" x="404" y="450.8" width="52" height="7" rx="1"/><text class="t" x="406" y="456">get</text><rect class="f" x="414" y="451.6" width="40" height="5.4" rx="1.2"/><text class="k" x="415.5" y="456">global Score ▾</text>
<text class="t" x="460" y="456">+</text>
<rect class="mb" x="467" y="450.8" width="16" height="7" rx="1"/><rect class="f" x="469" y="451.6" width="12" height="5.4" rx="1.2"/><text class="k" x="470.5" y="456">10</text>
<rect class="g" x="330" y="461" width="73" height="17" rx="1"/><text class="t" x="333" y="466.7">set</text><rect class="f" x="342" y="462.2" width="23" height="5.6" rx="1.2"/><text class="k" x="343.5" y="466.7">Score ▾</text><text class="t" x="367.5" y="466.7">.</text><rect class="f" x="371" y="462.2" width="18" height="5.6" rx="1.2"/><text class="k" x="372.5" y="466.7">Text ▾</text><text class="t" x="392.5" y="466.7">to</text>
<rect class="m" x="403" y="461" width="29" height="17" rx="1"/>
<rect class="ic" x="405.5" y="463.2" width="5" height="5" rx=".8"/>
<text class="t" x="412.5" y="466.7">join</text>
<rect class="o" x="432" y="461.5" width="51" height="7" rx="1"/><text class="t" x="434" y="466.7">get</text><rect class="f" x="442" y="462.3" width="39" height="5.4" rx="1.2"/><text class="k" x="443.5" y="466.7">global Score ▾</text>
<rect class="m" x="432" y="470" width="31" height="8" rx="1"/><text class="t" x="433.6" y="476.3">"</text><rect class="f" x="437" y="471.2" width="21" height="5.6" rx="1.2"/><text class="k" x="440" y="475.7">points</text><text class="t" x="459.1" y="476.3">"</text>
<rect class="g" x="330" y="479" width="87" height="8" rx="1"/><text class="t" x="333" y="484.7">set</text><rect class="f" x="342" y="480.2" width="38" height="5.6" rx="1.2"/><text class="k" x="343.5" y="484.7">AnswerText ▾</text><text class="t" x="382.5" y="484.7">.</text><rect class="f" x="386" y="480.2" width="18" height="5.6" rx="1.2"/><text class="k" x="387.5" y="484.7">Text ▾</text><text class="t" x="407" y="484.7">to</text>
<rect class="m" x="417" y="479" width="17" height="8" rx="1"/><text class="t" x="418.6" y="485.3">"</text><rect class="f" x="422" y="480.2" width="7" height="5.6" rx="1.2"/><text class="t" x="430.1" y="485.3">"</text>
<text class="t" x="315.5" y="498">else</text>
<rect class="g" x="330" y="492" width="95" height="8" rx="1"/><text class="t" x="333" y="497.7">set</text><rect class="f" x="342" y="493.2" width="46" height="5.6" rx="1.2"/><text class="k" x="343.5" y="497.7">RightWrongLabel ▾</text><text class="t" x="390.5" y="497.7">.</text><rect class="f" x="394" y="493.2" width="18" height="5.6" rx="1.2"/><text class="k" x="395.5" y="497.7">Text ▾</text><text class="t" x="415.5" y="497.7">to</text>
<rect class="m" x="425" y="492" width="60" height="8" rx="1"/><text class="t" x="426.6" y="498.3">"</text><rect class="f" x="430" y="493.2" width="50" height="5.6" rx="1.2"/><text class="k" x="431.3" y="497.7">Sorry, incorrect. :(</text><text class="t" x="481.1" y="498.3">"</text>
<rect class="g" x="330" y="501" width="87" height="8" rx="1"/><text class="t" x="333" y="506.7">set</text><rect class="f" x="342" y="502.2" width="38" height="5.6" rx="1.2"/><text class="k" x="343.5" y="506.7">AnswerText ▾</text><text class="t" x="382.5" y="506.7">.</text><rect class="f" x="386" y="502.2" width="18" height="5.6" rx="1.2"/><text class="k" x="387.5" y="506.7">Text ▾</text><text class="t" x="407" y="506.7">to</text>
<rect class="m" x="417" y="501" width="17" height="8" rx="1"/><text class="t" x="418.6" y="507.3">"</text><rect class="f" x="422" y="502.2" width="7" height="5.6" rx="1.2"/><text class="t" x="430.1" y="507.3">"</text>
<rect class="g" x="313" y="515" width="95" height="8" rx="1"/><text class="t" x="316" y="520.7">set</text><rect class="f" x="325" y="516.2" width="39" height="5.6" rx="1.2"/><text class="k" x="326.5" y="520.7">AnswerButton ▾</text><text class="t" x="366.5" y="520.7">.</text><rect class="f" x="370" y="516.2" width="25" height="5.6" rx="1.2"/><text class="k" x="371.5" y="520.7">Visible ▾</text><text class="t" x="398.5" y="520.7">to</text>
<rect class="lg" x="408" y="515" width="25" height="8" rx="1"/><rect class="f" x="410.5" y="516.2" width="20" height="5.6" rx="1.2"/><text class="k" x="412" y="520.7">false ▾</text>
</g>

<g id="connectors">
<polygon class="w" points="114,23.5 116.5,23.5 135,113.5 128,113.5"/>
<polygon class="w" points="329,34 331.5,34 349,124.5 342,124.5"/>
<polygon class="w" points="51,144 53.5,144 70,233.5 62,233.5"/>
<polygon class="w" points="368,178 370.5,178 387,267.5 379,267.5"/>
<polygon class="w" points="190,300.5 195,300.5 188.5,306"/>
<polygon class="w" points="168,392.5 173,392.5 173,397"/>
<polygon class="tp" points="101,227.5 106,227.5 102.5,233"/>
<polygon class="tp" points="182,227.5 187,227.5 181.5,232.5"/>
<polygon class="tp" points="99,261.5 104,261.5 98.5,266.5"/>
<polygon class="tp" points="26,294.5 31,294.5 30.5,300"/>
<polygon class="tp" points="313,262.5 318,262.5 311,267"/>
<polygon class="tp" points="308,402.5 313,402.5 305.5,408"/>
</g>

<g id="comments">
<g id="cPlaySound"><rect class="c" x="85" y="234" width="54" height="28"/><text class="ct" x="88" y="240.5">This plays the first sound.</text></g>
<g id="cPause"><rect class="c" x="86" y="202" width="53" height="26"/><text class="ct" x="89" y="208.5">This pauses the jeopardy</text><text class="ct" x="89" y="215.5">music.</text></g>
<g id="cPlayMusic"><rect class="c" x="168" y="202" width="54" height="26"/><text class="ct" x="171" y="208.5">This plays jeopardy music.</text></g>
<g id="cStart"><rect class="c" x="16" y="269" width="56" height="26"/><text class="ct" x="19" y="275.5">When the quiz starts,</text><text class="ct" x="19" y="282.8">these are the actions that</text><text class="ct" x="19" y="290.1">occur.</text></g>
<g id="cScore"><rect class="cp" x="174" y="275" width="55" height="26"/><text class="ct" x="177" y="281.5">The score starts at 0.</text></g>
<g id="cIndex"><rect class="cp" x="161" y="367" width="53" height="26"/><text class="ct" x="164" y="372.5">The index for the</text><text class="ct" x="164" y="380">questions is 1.</text></g>
<g id="cNext"><rect class="c" x="298" y="236" width="55" height="27"/><text class="ct" x="301" y="242.8">This set of code controls</text><text class="ct" x="301" y="249.5">what happens when "next"</text><text class="ct" x="301" y="256.5">is clicked.</text></g>
<g id="cAnswerBtn"><rect class="c" x="288" y="368" width="75" height="35"/><text class="ct" x="291" y="376">When the "check answer" button is</text><text class="ct" x="291" y="382.7">clicked, if the answer matches the</text><text class="ct" x="291" y="389.3">answer in the list then the player</text><text class="ct" x="291" y="396">earns 10 points.</text></g>
<g id="cAnswer"><rect class="cp" x="102" y="113" width="54" height="26"/><text class="ct" x="105" y="119.5">This is the answer list.</text></g>
<g id="cSound"><rect class="cp" x="317" y="124" width="54" height="25"/><text class="ct" x="320" y="130.5">This is the sound list</text><text class="ct" x="320" y="137.5">that is connected to the</text><text class="ct" x="320" y="144.5">"start" button.</text></g>
<g id="cQuestion"><rect class="cp" x="39" y="233" width="54" height="26"/><text class="ct" x="42" y="239.5">This is is the question</text><text class="ct" x="42" y="247">list.</text></g>
<g id="cImage"><rect class="cp" x="356" y="267" width="52" height="27"/><text class="ct" x="359" y="273.5">This is the image list.</text></g>
</g>
</svg>
